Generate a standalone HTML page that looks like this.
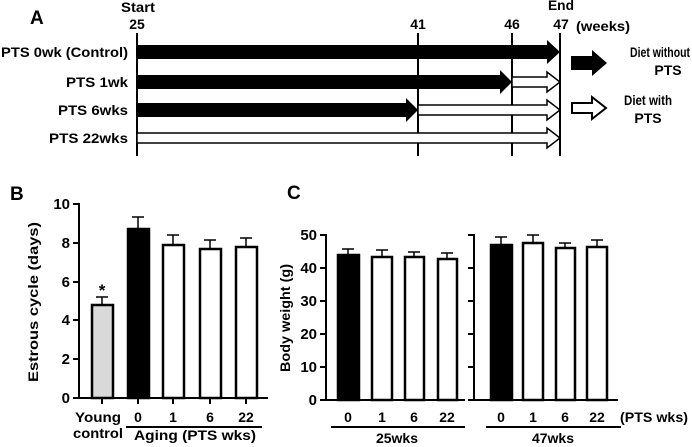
<!DOCTYPE html>
<html><head><meta charset="utf-8"><style>
html,body{margin:0;padding:0;background:#fff;}
svg{display:block;font-family:"Liberation Sans",Arial,sans-serif;font-weight:bold;}
</style></head><body>
<svg width="692" height="447" viewBox="0 0 692 447" xmlns="http://www.w3.org/2000/svg">
<!-- Panel A -->
<text x="30" y="24" font-size="19">A</text>
<text x="121" y="12" font-size="14" textLength="34" lengthAdjust="spacingAndGlyphs">Start</text>
<text x="548" y="10" font-size="14" textLength="26" lengthAdjust="spacingAndGlyphs">End</text>
<g font-size="14" text-anchor="middle">
<text x="137" y="29">25</text><text x="418" y="29">41</text><text x="512" y="29">46</text><text x="561" y="29">47</text>
</g>
<text x="576" y="31" font-size="14" textLength="54" lengthAdjust="spacingAndGlyphs">(weeks)</text>
<g stroke="#000" stroke-width="2">
<line x1="137" y1="33" x2="137" y2="156"/><line x1="418" y1="33" x2="418" y2="156"/>
<line x1="512" y1="33" x2="512" y2="156"/><line x1="560" y1="33" x2="560" y2="156"/>
</g>
<g font-size="14" text-anchor="end">
<text x="128" y="57" textLength="127" lengthAdjust="spacingAndGlyphs">PTS 0wk (Control)</text>
<text x="128" y="87" textLength="62" lengthAdjust="spacingAndGlyphs">PTS 1wk</text>
<text x="128" y="115" textLength="70" lengthAdjust="spacingAndGlyphs">PTS 6wks</text>
<text x="128" y="143" textLength="79" lengthAdjust="spacingAndGlyphs">PTS 22wks</text>
</g>
<polygon points="137,45 547,45 547,40 560,52 547,64 547,59 137,59" fill="#000"/>
<polygon points="512,77 547,77 547,72 560,82 547,92 547,87 512,87" fill="#fff" stroke="#000" stroke-width="1.5"/>
<polygon points="137,75 500,75 500,70 512,82 500,94 500,89 137,89" fill="#000"/>
<polygon points="418,105 547,105 547,100 560,110 547,120 547,115 418,115" fill="#fff" stroke="#000" stroke-width="1.5"/>
<polygon points="137,103 406,103 406,98 418,110 406,122 406,117 137,117" fill="#000"/>
<polygon points="137,133 547,133 547,128 560,138 547,148 547,143 137,143" fill="#fff" stroke="#000" stroke-width="1.5"/>
<!-- legend -->
<polygon points="571,56 592,56 592,50 607,63 592,76 592,70 571,70" fill="#000"/>
<text x="690" y="57" font-size="14" text-anchor="end" textLength="60" lengthAdjust="spacingAndGlyphs">Diet without</text>
<text x="668" y="75" font-size="14" text-anchor="middle">PTS</text>
<polygon points="572,103 592,103 592,97 606,108 592,119 592,113 572,113" fill="#fff" stroke="#000" stroke-width="2"/>
<text x="648" y="105" font-size="14" text-anchor="middle" textLength="48" lengthAdjust="spacingAndGlyphs">Diet with</text>
<text x="648" y="123" font-size="14" text-anchor="middle">PTS</text>

<!-- Panel B -->
<text x="10" y="200" font-size="19">B</text>
<text transform="translate(38,302) rotate(-90)" font-size="14" text-anchor="middle" textLength="160" lengthAdjust="spacingAndGlyphs">Estrous cycle (days)</text>
<g stroke="#000" stroke-width="2" fill="none">
<line x1="79" y1="203" x2="79" y2="398"/>
<line x1="79" y1="398" x2="268" y2="398"/>
<line x1="73" y1="204" x2="79" y2="204"/><line x1="73" y1="243" x2="79" y2="243"/>
<line x1="73" y1="282" x2="79" y2="282"/><line x1="73" y1="320" x2="79" y2="320"/>
<line x1="73" y1="359" x2="79" y2="359"/><line x1="73" y1="398" x2="79" y2="398"/>
<line x1="102" y1="398" x2="102" y2="404"/><line x1="138" y1="398" x2="138" y2="404"/>
<line x1="173" y1="398" x2="173" y2="404"/><line x1="210" y1="398" x2="210" y2="404"/>
<line x1="246" y1="398" x2="246" y2="404"/>
</g>
<g font-size="15" text-anchor="end">
<text x="70" y="209">10</text><text x="70" y="248">8</text><text x="70" y="287">6</text>
<text x="70" y="325">4</text><text x="70" y="364">2</text><text x="70" y="403">0</text>
</g>
<g stroke="#000" stroke-width="1.5">
<line x1="102" y1="305" x2="102" y2="297"/><line x1="96" y1="297" x2="108" y2="297"/>
<line x1="138" y1="229" x2="138" y2="217"/><line x1="132" y1="217" x2="144" y2="217"/>
<line x1="173" y1="245" x2="173" y2="235"/><line x1="167" y1="235" x2="179" y2="235"/>
<line x1="210" y1="249" x2="210" y2="240"/><line x1="204" y1="240" x2="216" y2="240"/>
<line x1="246" y1="247" x2="246" y2="238"/><line x1="240" y1="238" x2="252" y2="238"/>
</g>
<g stroke="#000" stroke-width="2.5">
<rect x="92" y="305" width="21" height="93" fill="#d9d9d9"/>
<rect x="128" y="229" width="21" height="169" fill="#000"/>
<rect x="163" y="245" width="21" height="153" fill="#fff"/>
<rect x="200" y="249" width="21" height="149" fill="#fff"/>
<rect x="236" y="247" width="21" height="151" fill="#fff"/>
</g>
<text x="102" y="296" font-size="17" text-anchor="middle">*</text>
<g font-size="14" text-anchor="middle">
<text x="98" y="422" textLength="46" lengthAdjust="spacingAndGlyphs">Young</text><text x="98" y="438" textLength="50" lengthAdjust="spacingAndGlyphs">control</text>
<text x="138" y="422">0</text><text x="173" y="422">1</text><text x="210" y="422">6</text><text x="246" y="422">22</text>
<text x="195" y="440" textLength="122" lengthAdjust="spacingAndGlyphs">Aging (PTS wks)</text>
</g>
<line x1="126" y1="427" x2="262" y2="427" stroke="#000" stroke-width="2"/>

<!-- Panel C -->
<text x="287" y="199" font-size="19">C</text>
<text transform="translate(290,318) rotate(-90)" font-size="14" text-anchor="middle" textLength="108" lengthAdjust="spacingAndGlyphs">Body weight (g)</text>
<g stroke="#000" stroke-width="2" fill="none">
<line x1="326" y1="234" x2="326" y2="400"/><line x1="326" y1="400" x2="465" y2="400"/>
<line x1="474" y1="234" x2="474" y2="400"/><line x1="474" y1="400" x2="618" y2="400"/>
<line x1="320" y1="235" x2="326" y2="235"/><line x1="320" y1="268" x2="326" y2="268"/>
<line x1="320" y1="301" x2="326" y2="301"/><line x1="320" y1="334" x2="326" y2="334"/>
<line x1="320" y1="367" x2="326" y2="367"/><line x1="320" y1="400" x2="326" y2="400"/>
<line x1="468" y1="235" x2="474" y2="235"/><line x1="468" y1="268" x2="474" y2="268"/>
<line x1="468" y1="301" x2="474" y2="301"/><line x1="468" y1="334" x2="474" y2="334"/>
<line x1="468" y1="367" x2="474" y2="367"/><line x1="468" y1="400" x2="474" y2="400"/>
</g>
<g font-size="15" text-anchor="end">
<text x="317" y="240">50</text><text x="317" y="273">40</text><text x="317" y="306">30</text>
<text x="317" y="339">20</text><text x="317" y="372">10</text><text x="317" y="405">0</text>
</g>
<g stroke="#000" stroke-width="1.5">
<line x1="348" y1="255" x2="348" y2="249"/><line x1="342" y1="249" x2="354" y2="249"/>
<line x1="382" y1="257" x2="382" y2="250"/><line x1="376" y1="250" x2="388" y2="250"/>
<line x1="414" y1="257" x2="414" y2="252"/><line x1="408" y1="252" x2="420" y2="252"/>
<line x1="447" y1="259" x2="447" y2="253"/><line x1="441" y1="253" x2="453" y2="253"/>
<line x1="501" y1="245" x2="501" y2="237"/><line x1="495" y1="237" x2="507" y2="237"/>
<line x1="533" y1="243" x2="533" y2="235"/><line x1="527" y1="235" x2="539" y2="235"/>
<line x1="565" y1="248" x2="565" y2="243"/><line x1="559" y1="243" x2="571" y2="243"/>
<line x1="597" y1="247" x2="597" y2="240"/><line x1="591" y1="240" x2="603" y2="240"/>
</g>
<g stroke="#000" stroke-width="2.5">
<rect x="338" y="255" width="21" height="145" fill="#000"/>
<rect x="372" y="257" width="20" height="143" fill="#fff"/>
<rect x="405" y="257" width="19" height="143" fill="#fff"/>
<rect x="438" y="259" width="19" height="141" fill="#fff"/>
<rect x="491" y="245" width="21" height="155" fill="#000"/>
<rect x="523" y="243" width="20" height="157" fill="#fff"/>
<rect x="556" y="248" width="19" height="152" fill="#fff"/>
<rect x="587" y="247" width="20" height="153" fill="#fff"/>
</g>
<g font-size="14" text-anchor="middle">
<text x="348" y="422">0</text><text x="382" y="422">1</text><text x="414" y="422">6</text><text x="447" y="422">22</text>
<text x="501" y="422">0</text><text x="533" y="422">1</text><text x="565" y="422">6</text><text x="597" y="422">22</text>
<text x="397" y="443">25wks</text><text x="553" y="443">47wks</text>
</g>
<text x="620" y="422" font-size="14" textLength="68" lengthAdjust="spacingAndGlyphs">(PTS wks)</text>
<line x1="331" y1="427" x2="465" y2="427" stroke="#000" stroke-width="2"/>
<line x1="486" y1="427" x2="621" y2="427" stroke="#000" stroke-width="2"/>
</svg>
</body></html>
